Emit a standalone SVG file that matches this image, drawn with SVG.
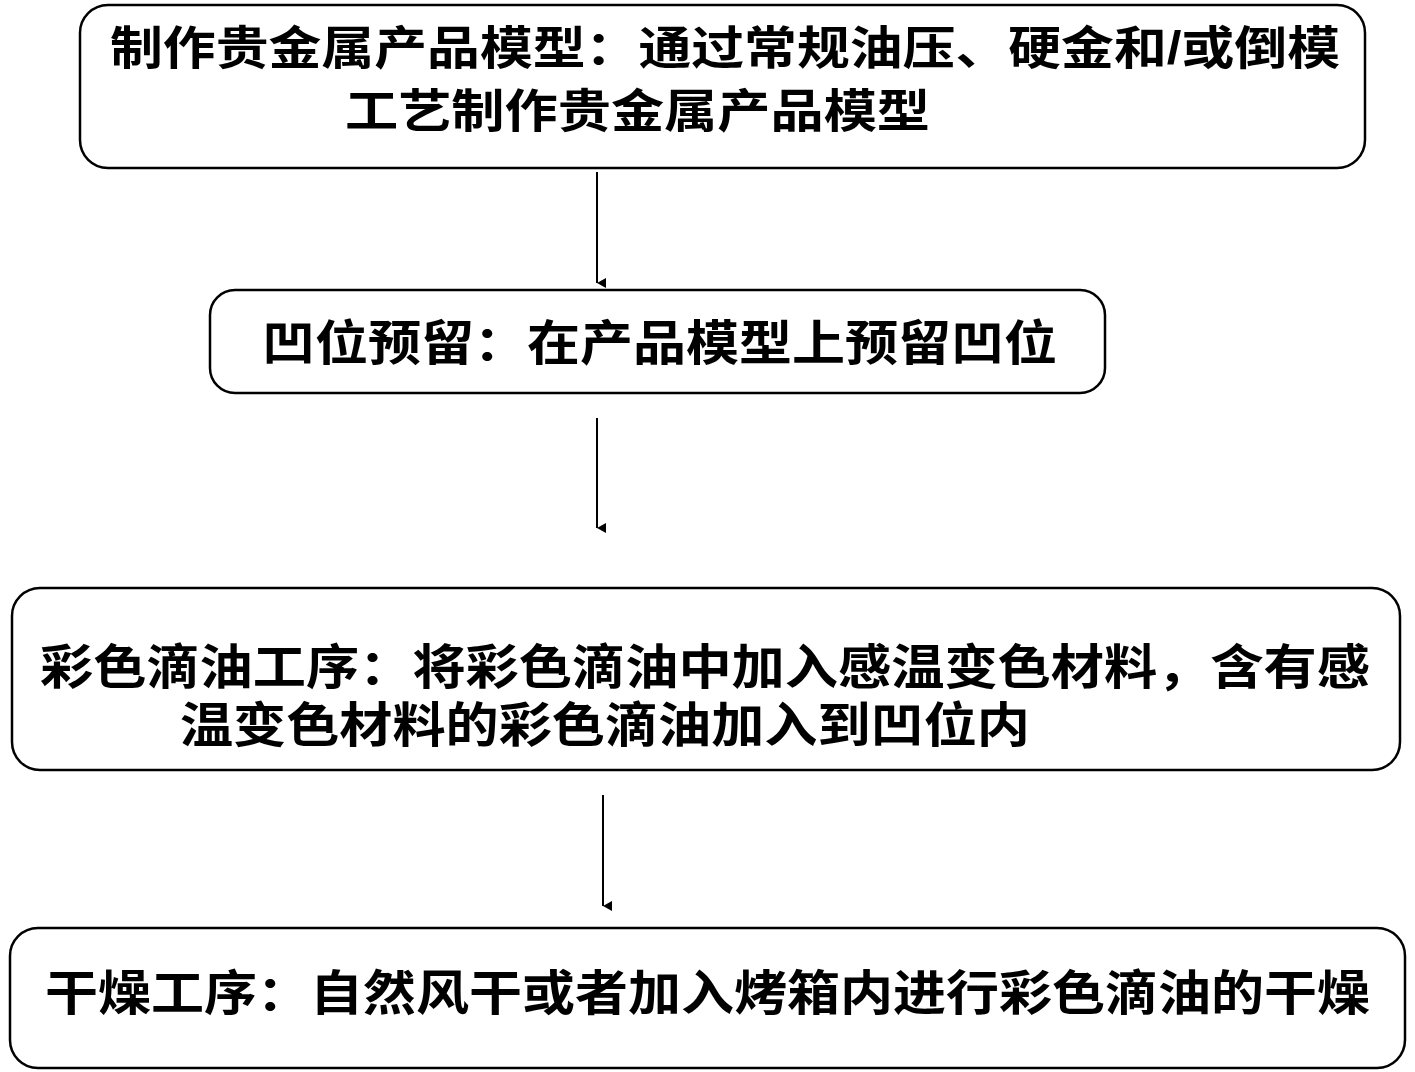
<svg xmlns="http://www.w3.org/2000/svg" width="1415" height="1072" viewBox="0 0 1415 1072">
<style>
.b{fill:#fff;stroke:#000;stroke-width:2.5}
.t{font-family:"Liberation Sans","Noto Sans CJK SC",sans-serif;font-weight:bold;fill:#000}
.c{stroke:#000;stroke-width:2;fill:none}
</style>
<defs><marker id="a" markerWidth="10" markerHeight="10" refX="5" refY="9" orient="auto" markerUnits="userSpaceOnUse"><path d="M0,0 L5,9 L10,0 Z" fill="#000"/></marker></defs>
<rect width="1415" height="1072" fill="#fff"/>
<g id="n1"><rect class="b" x="80" y="5" width="1285" height="163" rx="28"/>
<text class="t" x="110" y="64" font-size="46" textLength="1230" lengthAdjust="spacingAndGlyphs">制作贵金属产品模型：通过常规油压、硬金和/或倒模</text>
<text class="t" x="345" y="127" font-size="46" textLength="585" lengthAdjust="spacingAndGlyphs">工艺制作贵金属产品模型</text></g>
<g id="n2"><rect class="b" x="210" y="290" width="895" height="103" rx="25"/>
<text class="t" x="262" y="360" font-size="48" textLength="795" lengthAdjust="spacingAndGlyphs">凹位预留：在产品模型上预留凹位</text></g>
<g id="n3"><rect class="b" x="12" y="588" width="1388" height="182" rx="28"/>
<text class="t" x="40" y="684" font-size="48" textLength="1330" lengthAdjust="spacingAndGlyphs">彩色滴油工序：将彩色滴油中加入感温变色材料，含有感</text>
<text class="t" x="180" y="742" font-size="48" textLength="850" lengthAdjust="spacingAndGlyphs">温变色材料的彩色滴油加入到凹位内</text></g>
<g id="n4"><rect class="b" x="10" y="928" width="1395" height="140" rx="28"/>
<text class="t" x="45" y="1010" font-size="48" textLength="1325" lengthAdjust="spacingAndGlyphs">干燥工序：自然风干或者加入烤箱内进行彩色滴油的干燥</text></g>
<g id="connectors">
<line class="c" x1="597" y1="172" x2="597" y2="283" marker-end="url(#a)"/>
<line class="c" x1="597" y1="418" x2="597" y2="528" marker-end="url(#a)"/>
<line class="c" x1="603" y1="795" x2="603" y2="906" marker-end="url(#a)"/>
</g>
</svg>
